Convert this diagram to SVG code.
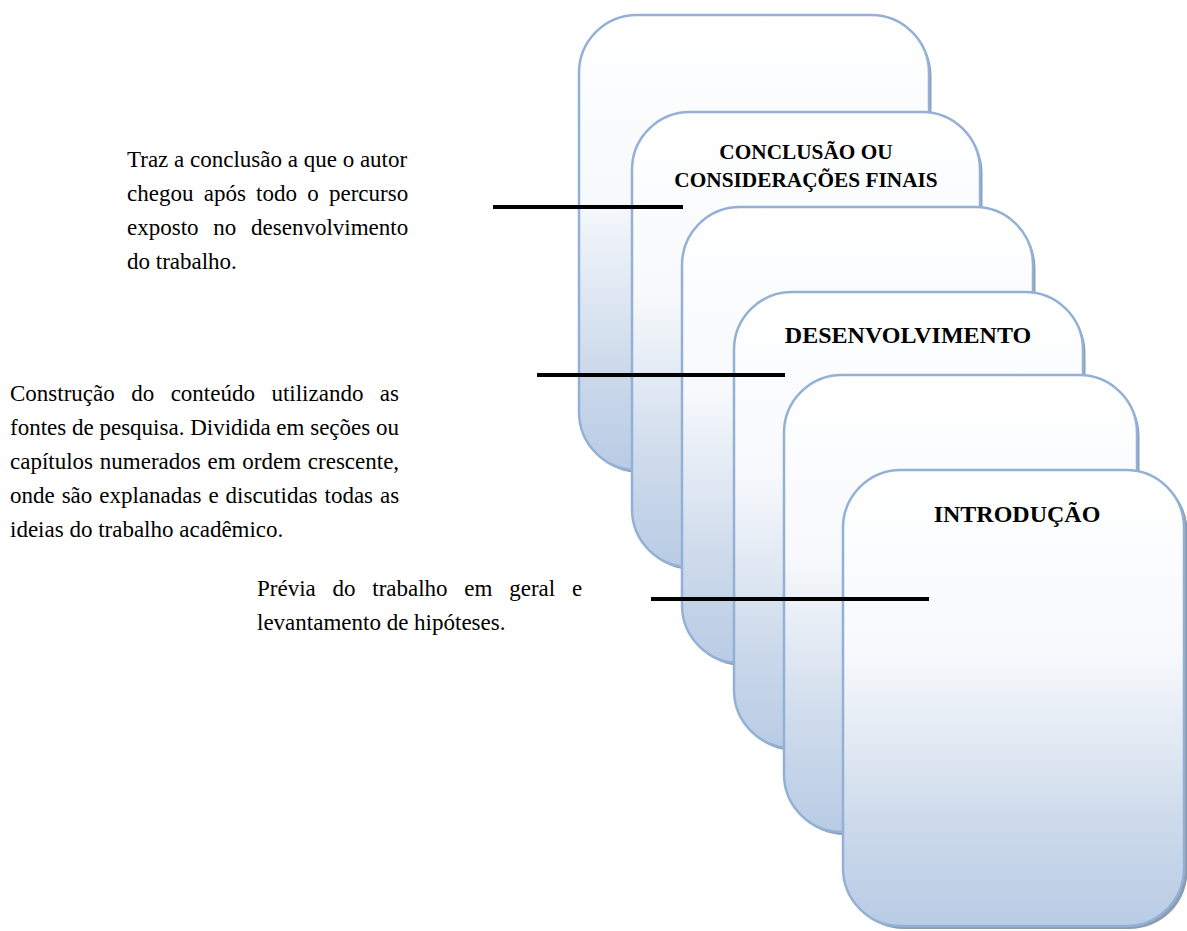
<svg xmlns="http://www.w3.org/2000/svg" width="1187" height="931" viewBox="0 0 1187 931">
  <defs>
    <linearGradient id="cardFill" x1="0" y1="0" x2="0" y2="1">
      <stop offset="0" stop-color="#ffffff"/>
      <stop offset="0.4" stop-color="#f7f9fc"/>
      <stop offset="0.8" stop-color="#cad8ea"/>
      <stop offset="1" stop-color="#b9cce5"/>
    </linearGradient>
    <style>
      .shadow { fill: #8c9db3; }
      .card { fill: url(#cardFill); stroke: #93b1d6; stroke-width: 2.5; }
      .title { font-family: "Liberation Serif", "DejaVu Serif", serif; font-weight: bold; fill: #000; text-anchor: middle; }
      .desc { font-family: "Liberation Serif", "DejaVu Serif", serif; font-weight: normal; font-size: 23px; fill: #000; }
      .conn { stroke: #000; stroke-width: 4; fill: none; }
    </style>
  </defs>
  <rect width="1187" height="931" fill="#ffffff"/>

  <g id="card1">
    <rect class="shadow" x="581.5" y="18" width="350" height="455" rx="58" ry="58"/>
    <rect class="card" x="579" y="15" width="350" height="455" rx="58" ry="58"/>
  </g>
  <g id="card2">
    <rect class="shadow" x="634.5" y="115" width="348" height="455" rx="58" ry="58"/>
    <rect class="card" x="632" y="112" width="348" height="455" rx="58" ry="58"/>
    <text class="title" x="806" y="159" font-size="21.3">CONCLUSÃO OU</text>
    <text class="title" x="806" y="187" font-size="21.3">CONSIDERAÇÕES FINAIS</text>
  </g>
  <g id="card3">
    <rect class="shadow" x="684.5" y="210" width="351" height="456" rx="58" ry="58"/>
    <rect class="card" x="682" y="207" width="351" height="456" rx="58" ry="58"/>
  </g>
  <g id="card4">
    <rect class="shadow" x="736.5" y="295" width="349" height="456" rx="58" ry="58"/>
    <rect class="card" x="734" y="292" width="349" height="456" rx="58" ry="58"/>
    <text class="title" x="908" y="343" font-size="24">DESENVOLVIMENTO</text>
  </g>
  <g id="card5">
    <rect class="shadow" x="786.5" y="378" width="353" height="457" rx="58" ry="58"/>
    <rect class="card" x="784" y="375" width="353" height="457" rx="58" ry="58"/>
  </g>
  <g id="card6">
    <rect class="shadow" x="845.5" y="473" width="342" height="456" rx="58" ry="58"/>
    <rect class="card" x="843" y="470" width="341" height="456" rx="58" ry="58"/>
    <text class="title" x="1017" y="522" font-size="24">INTRODUÇÃO</text>
  </g>

  <g id="text-conclusao">
    <text class="desc" x="127" y="167">Traz a conclusão a que o autor</text>
    <text class="desc" x="127" y="201" word-spacing="4.5">chegou após todo o percurso</text>
    <text class="desc" x="127" y="235" word-spacing="9">exposto no desenvolvimento</text>
    <text class="desc" x="127" y="269">do trabalho.</text>
  </g>
  <g id="text-desenvolvimento">
    <text class="desc" x="10" y="401" word-spacing="10.7">Construção do conteúdo utilizando as</text>
    <text class="desc" x="10" y="435">fontes de pesquisa. Dividida em seções ou</text>
    <text class="desc" x="10" y="469" word-spacing="1">capítulos numerados em ordem crescente,</text>
    <text class="desc" x="10" y="503" word-spacing="1.2">onde são explanadas e discutidas todas as</text>
    <text class="desc" x="10" y="537">ideias do trabalho acadêmico.</text>
  </g>
  <g id="text-introducao">
    <text class="desc" x="257" y="596" word-spacing="11">Prévia do trabalho em geral e</text>
    <text class="desc" x="257" y="630">levantamento de hipóteses.</text>
  </g>

  <g id="connectors">
    <line class="conn" x1="493" y1="207" x2="683" y2="207"/>
    <line class="conn" x1="537" y1="375" x2="785" y2="375"/>
    <line class="conn" x1="651" y1="599" x2="929" y2="599"/>
  </g>
</svg>
